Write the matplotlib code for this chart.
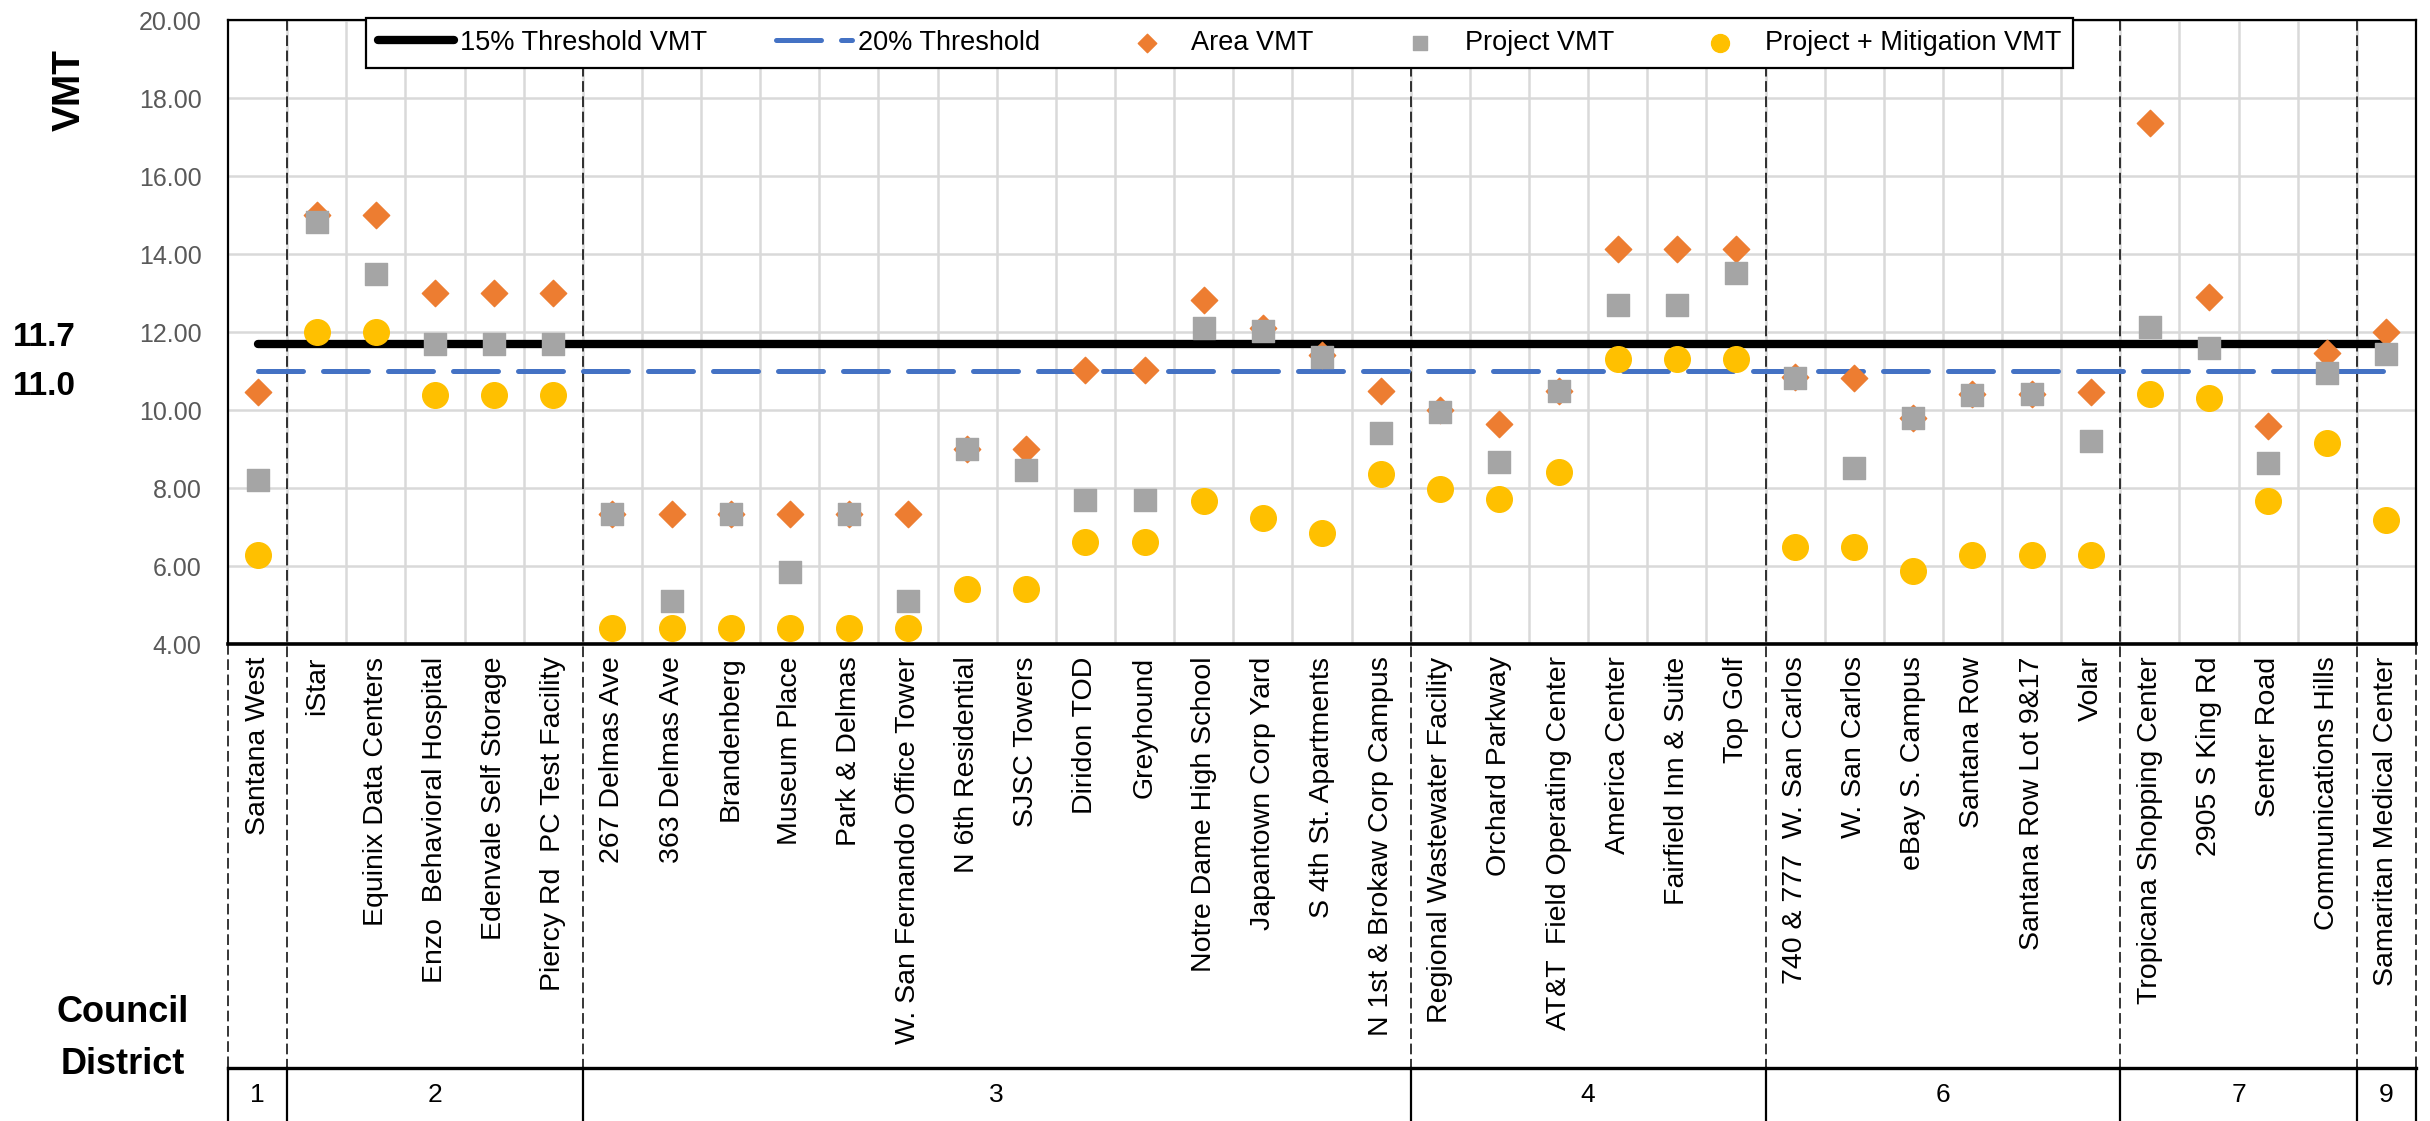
import matplotlib
matplotlib.use("Agg")
import matplotlib.pyplot as plt
import numpy as np

projects = ["Santana West", "iStar", "Equinix Data Centers", "Enzo  Behavioral Hospital",
            "Edenvale Self Storage", "Piercy Rd  PC Test Facility", "267 Delmas Ave",
            "363 Delmas Ave", "Brandenberg", "Museum Place", "Park & Delmas",
            "W. San Fernando Office Tower", "N 6th Residential", "SJSC Towers", "Diridon TOD",
            "Greyhound", "Notre Dame High School", "Japantown Corp Yard", "S 4th St. Apartments",
            "N 1st & Brokaw Corp Campus", "Regional Wastewater Facility", "Orchard Parkway",
            "AT&T  Field Operating Center", "America Center", "Fairfield Inn & Suite", "Top Golf",
            "740 & 777  W. San Carlos", "W. San Carlos", "eBay S. Campus", "Santana Row",
            "Santana Row Lot 9&17", "Volar", "Tropicana Shopping Center", "2905 S King Rd",
            "Senter Road", "Communications Hills", "Samaritan Medical Center"]

district_names = ["1", "2", "3", "4", "6", "7", "9"]
district_sizes = [1, 5, 14, 6, 6, 4, 1]

area_vmt = [10.45, 15.0, 15.0, 13.0, 13.0, 13.0, 7.33, 7.33, 7.33, 7.33, 7.33, 7.33,
            8.99, 8.99, 11.02, 11.02, 12.81, 12.1, 11.4, 10.48, 10.0, 9.64, 10.5,
            14.12, 14.12, 14.12, 10.85, 10.82, 9.79, 10.4, 10.4, 10.45, 17.36, 12.89,
            9.59, 11.45, 11.99]
project_vmt = [8.21, 14.82, 13.49, 11.7, 11.7, 11.7, 7.33, 5.11, 7.33, 5.84, 7.33, 5.11,
               8.99, 8.47, 7.69, 7.69, 12.1, 12.02, 11.35, 9.42, 9.96, 8.67, 10.5,
               12.7, 12.7, 13.52, 10.82, 8.52, 9.79, 10.39, 10.4, 9.21, 12.14, 11.6,
               8.63, 10.94, 11.43]
mitigation_vmt = [6.27, 12.0, 12.0, 10.39, 10.39, 10.39, 4.41, 4.41, 4.41, 4.41, 4.41, 4.41,
                  5.41, 5.41, 6.61, 6.61, 7.67, 7.24, 6.84, 8.37, 7.97, 7.71, 8.4,
                  11.31, 11.31, 11.31, 6.48, 6.48, 5.88, 6.27, 6.27, 6.27, 10.42, 10.31,
                  7.67, 9.15, 7.18]

threshold_15 = 11.7
threshold_20 = 11.0

FONT = ["Liberation Sans", "DejaVu Sans"]

W, H = 2430, 1121
fig = plt.figure(figsize=(W / 100, H / 100), dpi=100)
left, right, top, bottom = 228, 2416, 20, 644
ax = fig.add_axes([left / W, 1 - bottom / H, (right - left) / W, (bottom - top) / H])

n = len(projects)
x = np.arange(n)

# threshold lines (under the markers)
ax.plot([0, n - 1], [threshold_15, threshold_15], color="black", lw=6,
        solid_capstyle="round", zorder=2, label="15% Threshold VMT")
ax.plot([0, n - 1], [threshold_20, threshold_20], color="#4472C4", lw=3.6,
        linestyle=(0, (9, 4)), dash_capstyle="round", zorder=2, label="20% Threshold")

ax.scatter(x, area_vmt, marker="D", s=180, color="#ED7D31", zorder=3, label="Area VMT")
ax.scatter(x, project_vmt, marker="s", s=230, color="#A5A5A5", zorder=4, label="Project VMT")
ax.scatter(x, mitigation_vmt, marker="o", s=340, color="#FFC000", zorder=5,
           label="Project + Mitigation VMT")

ax.set_xlim(-0.5, n - 0.5)
ax.set_ylim(4, 20)
ax.set_yticks(np.arange(4, 21, 2))
ax.set_yticklabels([f"{v:.2f}" for v in np.arange(4, 21, 2)], color="#595959",
                   family=FONT, fontsize=18)
ax.set_xticks(x)
ax.set_xticklabels(projects, rotation=90, ha="center", va="top", fontsize=20.5,
                   family=FONT)
ax.set_xticks(np.arange(n - 1) + 0.5, minor=True)
ax.tick_params(axis="both", which="both", length=0)
ax.tick_params(axis="y", pad=19)
ax.tick_params(axis="x", pad=9)
ax.grid(axis="y", which="major", color="#D9D9D9", lw=1.8, zorder=0)
ax.grid(axis="x", which="minor", color="#D9D9D9", lw=1.8, zorder=0)
ax.set_axisbelow(True)
for s in ["left", "top", "right"]:
    ax.spines[s].set_linewidth(1.6)
ax.spines["bottom"].set_linewidth(2.6)

# district separators and council district table
trans = ax.get_xaxis_transform()
table_top = (bottom - 1068) / (bottom - top)
fig_bottom = (bottom - H) / (bottom - top)
bounds = np.concatenate([[0], np.cumsum(district_sizes)]) - 0.5
for i, b in enumerate(bounds):
    ytop = 1 if 0 < i < len(bounds) - 1 else 0
    ax.plot([b, b], [ytop, table_top], transform=trans, color="black", lw=1.1,
            linestyle=(0, (7, 3)), clip_on=False, zorder=1)
    ax.plot([b, b], [table_top, fig_bottom], transform=trans, color="black", lw=1.6,
            clip_on=False)
ax.plot([bounds[0], bounds[-1]], [table_top, table_top], transform=trans, color="black",
        lw=2.4, clip_on=False)
for name, a, b in zip(district_names, bounds[:-1], bounds[1:]):
    ax.text((a + b) / 2, (table_top + fig_bottom) / 2, name, transform=trans,
            ha="center", va="center", fontsize=19, family=FONT)

fig.text(123 / W, 1 - 1012 / H, "Council", ha="center", va="center", fontsize=26,
         fontweight="bold", family=FONT)
fig.text(123 / W, 1 - 1064 / H, "District", ha="center", va="center", fontsize=26,
         fontweight="bold", family=FONT)
fig.text(70 / W, 1 - 90 / H, "VMT", rotation=90, ha="center", va="center", fontsize=28,
         fontweight="bold", family=FONT)

ytrans = ax.get_yaxis_transform()
ax.text(-(left - 13) / (right - left), 11.85, "11.7", transform=ytrans, ha="left",
        va="center", fontsize=24, fontweight="bold", family=FONT)
ax.text(-(left - 13) / (right - left), 10.6, "11.0", transform=ytrans, ha="left",
        va="center", fontsize=24, fontweight="bold", family=FONT)

leg = fig.legend(loc="upper left", ncol=5, mode="expand",
                 bbox_to_anchor=(352 / W, 1 - 60 / H, (2087 - 352) / W, 56 / H),
                 prop={"family": FONT, "size": 19.5},
                 frameon=True, fancybox=False, framealpha=1, edgecolor="black",
                 handlelength=2.8, handletextpad=0.25, borderpad=0.45, markerscale=0.7)
leg.get_frame().set_linewidth(1.6)

fig.savefig("out.png", dpi=100)
